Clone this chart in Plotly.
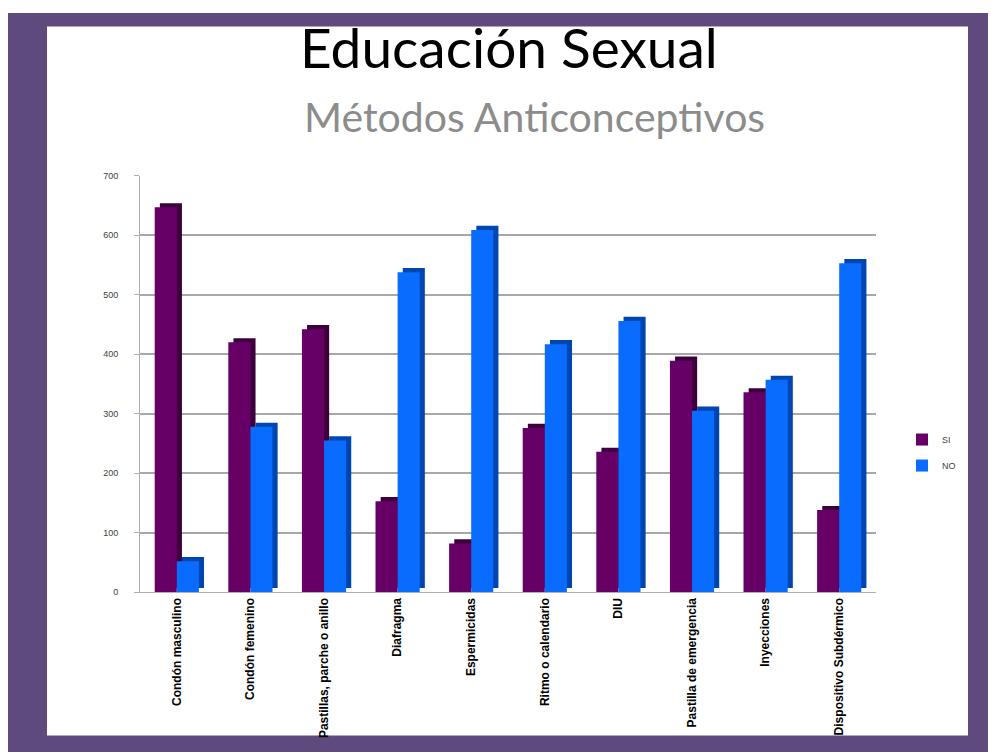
import plotly.graph_objects as go

categories = ["Condón masculino", "Condón femenino", "Pastillas, parche o anillo",
              "Diafragma", "Espermicidas", "Ritmo o calendario", "DIU",
              "Pastilla de emergencia", "Inyecciones", "Dispositivo Subdérmico"]
si_values = [647, 420, 442, 153, 82, 276, 236, 389, 336, 138]
no_values = [52, 278, 255, 538, 609, 417, 456, 305, 357, 553]
y_ticks = [0, 100, 200, 300, 400, 500, 600, 700]

W, H = 996, 752
OFF = 8  # page body margin
purple_front = "#660066"
purple_side = "#3d003d"
blue_front = "#0a6cff"
blue_side = "#0046b0"

bar_w = 0.30
side_dx = 0.07
side_dy = 7

fig = go.Figure()
fig.add_trace(go.Bar(x=categories, y=si_values, base=side_dy, offset=-bar_w + side_dx, width=bar_w,
                     marker=dict(color=purple_side, line=dict(width=0)), showlegend=False,
                     hoverinfo="skip", legendgroup="si"))
fig.add_trace(go.Bar(x=categories, y=si_values, offset=-bar_w, width=bar_w, name="SI",
                     marker=dict(color=purple_front, line=dict(width=0)), legendgroup="si"))
fig.add_trace(go.Bar(x=categories, y=no_values, base=side_dy, offset=side_dx, width=bar_w,
                     marker=dict(color=blue_side, line=dict(width=0)), showlegend=False,
                     hoverinfo="skip", legendgroup="no"))
fig.add_trace(go.Bar(x=categories, y=no_values, offset=0, width=bar_w, name="NO",
                     marker=dict(color=blue_front, line=dict(width=0)), legendgroup="no"))

def px(x):
    return (x - OFF) / W

def py(y):
    return 1 - (((y - 5.54) / 0.9856) - OFF) / H

shapes = [
    dict(type="rect", xref="paper", yref="paper", x0=0, x1=1, y0=0, y1=1,
         fillcolor="#5f4a7e", line=dict(width=0), layer="below"),
    dict(type="rect", xref="paper", yref="paper", x0=px(47), x1=px(968), y0=py(735), y1=py(27),
         fillcolor="white", line=dict(width=0), layer="below"),
]

fig.update_layout(
    width=W, height=H,
    margin=dict(l=0, r=0, t=0, b=0),
    paper_bgcolor="white",
    plot_bgcolor="rgba(0,0,0,0)",
    barmode="overlay",
    shapes=shapes,
    xaxis=dict(domain=[px(140), px(876)], tickangle=-90,
               tickfont=dict(family="Liberation Sans Narrow, Liberation Sans, sans-serif", size=12,
                             color="black", weight="bold"),
               showgrid=False, showline=True, linecolor="#b0b0b0", linewidth=1,
               ticks="", range=[-0.5, 9.5]),
    yaxis=dict(domain=[py(592), py(176)], range=[0, 700], tickvals=y_ticks,
               tickfont=dict(family="Liberation Sans, sans-serif", size=9, color="#404040"),
               showgrid=True, gridcolor="#a8a8a8", gridwidth=1.5,
               showline=True, linecolor="#b0b0b0", linewidth=1,
               ticks="outside", ticklen=5, tickcolor="#b0b0b0",
               ticklabelstandoff=14, zeroline=False),
    legend=dict(x=px(902), y=py(425), xanchor="left", yanchor="top",
                font=dict(family="Liberation Sans, sans-serif", size=9, color="#404040"),
                bgcolor="rgba(0,0,0,0)", itemwidth=30, tracegroupgap=7),
    annotations=[
        dict(text="Educación Sexual", xref="paper", yref="paper", x=px(509), y=py(47),
             showarrow=False, xanchor="center", yanchor="middle",
             font=dict(family="Lato, Open Sans, sans-serif", size=55, color="black")),
        dict(text="Métodos Anticonceptivos", xref="paper", yref="paper", x=px(534), y=py(117),
             showarrow=False, xanchor="center", yanchor="middle",
             font=dict(family="Lato, Open Sans, sans-serif", size=41, color="#8c8c8c")),
    ],
)

fig.write_html("out.html")
